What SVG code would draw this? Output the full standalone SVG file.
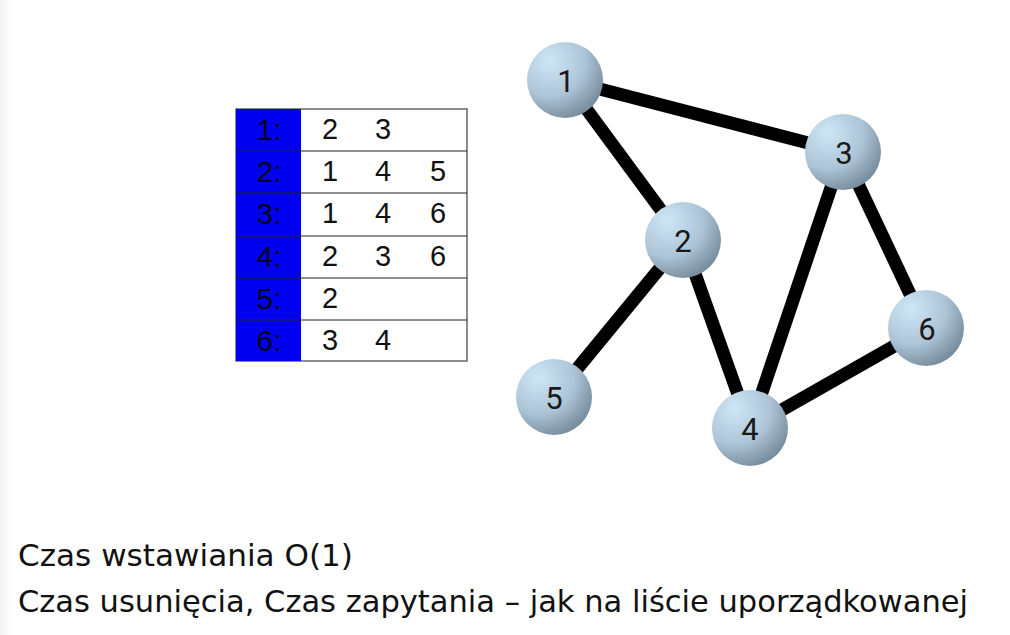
<svg xmlns="http://www.w3.org/2000/svg" width="1010" height="635" viewBox="0 0 1010 635">
<defs>
<radialGradient id="ball" cx="0.3" cy="0.25" r="0.85">
<stop offset="0" stop-color="#cfe6f7"/>
<stop offset="0.55" stop-color="#adc4d6"/>
<stop offset="1" stop-color="#6f8494"/>
</radialGradient>
<linearGradient id="edgeShade" x1="0" y1="0" x2="1" y2="0">
<stop offset="0" stop-color="#f2f2f2"/>
<stop offset="1" stop-color="#ffffff"/>
</linearGradient>
<style>
.cell{font-family:"Liberation Sans",Arial,sans-serif;font-size:29px;fill:#111;text-anchor:middle}
.lbl{font-family:"Liberation Sans",Arial,sans-serif;font-size:30px;fill:#050520;text-anchor:middle}
.node circle{fill:url(#ball)}
.node text{font-family:Roboto,"Liberation Sans",sans-serif;font-size:31px;fill:#1a1a1a;text-anchor:middle}
.edge{stroke:#000;stroke-width:13;stroke-linecap:butt}
.body{font-family:"DejaVu Sans","Liberation Sans",sans-serif;font-size:31px;fill:#111}
.rule{stroke:#222;stroke-width:1}
</style>
</defs>
<rect width="1010" height="635" fill="#fff"/>
<rect x="0" y="0" width="14" height="635" fill="url(#edgeShade)"/>
<g id="table">
<rect x="236" y="109" width="231" height="252" fill="#fff" stroke="#666" stroke-width="1.5"/>
<rect x="236" y="109" width="65" height="252" fill="#0000f0"/>
<line class="rule" x1="236" y1="151" x2="467" y2="151"/>
<line class="rule" x1="236" y1="193" x2="467" y2="193"/>
<line class="rule" x1="236" y1="236" x2="467" y2="236"/>
<line class="rule" x1="236" y1="278" x2="467" y2="278"/>
<line class="rule" x1="236" y1="320" x2="467" y2="320"/>
<text class="lbl" x="269" y="140">1:</text>
<text class="lbl" x="269" y="182">2:</text>
<text class="lbl" x="269" y="224">3:</text>
<text class="lbl" x="269" y="267">4:</text>
<text class="lbl" x="269" y="309">5:</text>
<text class="lbl" x="269" y="351">6:</text>
<text class="cell" x="330" y="139">2</text><text class="cell" x="383" y="139">3</text>
<text class="cell" x="330" y="181">1</text><text class="cell" x="383" y="181">4</text><text class="cell" x="438" y="181">5</text>
<text class="cell" x="330" y="223">1</text><text class="cell" x="383" y="223">4</text><text class="cell" x="438" y="223">6</text>
<text class="cell" x="330" y="266">2</text><text class="cell" x="383" y="266">3</text><text class="cell" x="438" y="266">6</text>
<text class="cell" x="330" y="308">2</text>
<text class="cell" x="330" y="350">3</text><text class="cell" x="383" y="350">4</text>
</g>
<g id="connectors">
<line class="edge" x1="565" y1="80" x2="843" y2="152"/>
<line class="edge" x1="565" y1="80" x2="683" y2="240"/>
<line class="edge" x1="683" y1="240" x2="554" y2="397"/>
<line class="edge" x1="683" y1="240" x2="750" y2="428"/>
<line class="edge" x1="843" y1="152" x2="750" y2="428"/>
<line class="edge" x1="843" y1="152" x2="926" y2="328"/>
<line class="edge" x1="926" y1="328" x2="750" y2="428"/>
</g>
<g id="n1" class="node"><circle cx="565" cy="80" r="38"/><text x="566" y="92">1</text></g>
<g id="n2" class="node"><circle cx="683" cy="240" r="38"/><text x="683" y="252">2</text></g>
<g id="n3" class="node"><circle cx="843" cy="152" r="38"/><text x="844" y="164">3</text></g>
<g id="n4" class="node"><circle cx="750" cy="428" r="38"/><text x="750" y="440">4</text></g>
<g id="n5" class="node"><circle cx="554" cy="397" r="38"/><text x="554" y="409">5</text></g>
<g id="n6" class="node"><circle cx="926" cy="328" r="38"/><text x="927" y="340">6</text></g>
<g id="caption">
<text class="body" x="18" y="566" textLength="335" lengthAdjust="spacingAndGlyphs">Czas wstawiania O(1)</text>
<text class="body" x="18" y="612" textLength="950" lengthAdjust="spacingAndGlyphs">Czas usunięcia, Czas zapytania – jak na liście uporządkowanej</text>
</g>
</svg>
